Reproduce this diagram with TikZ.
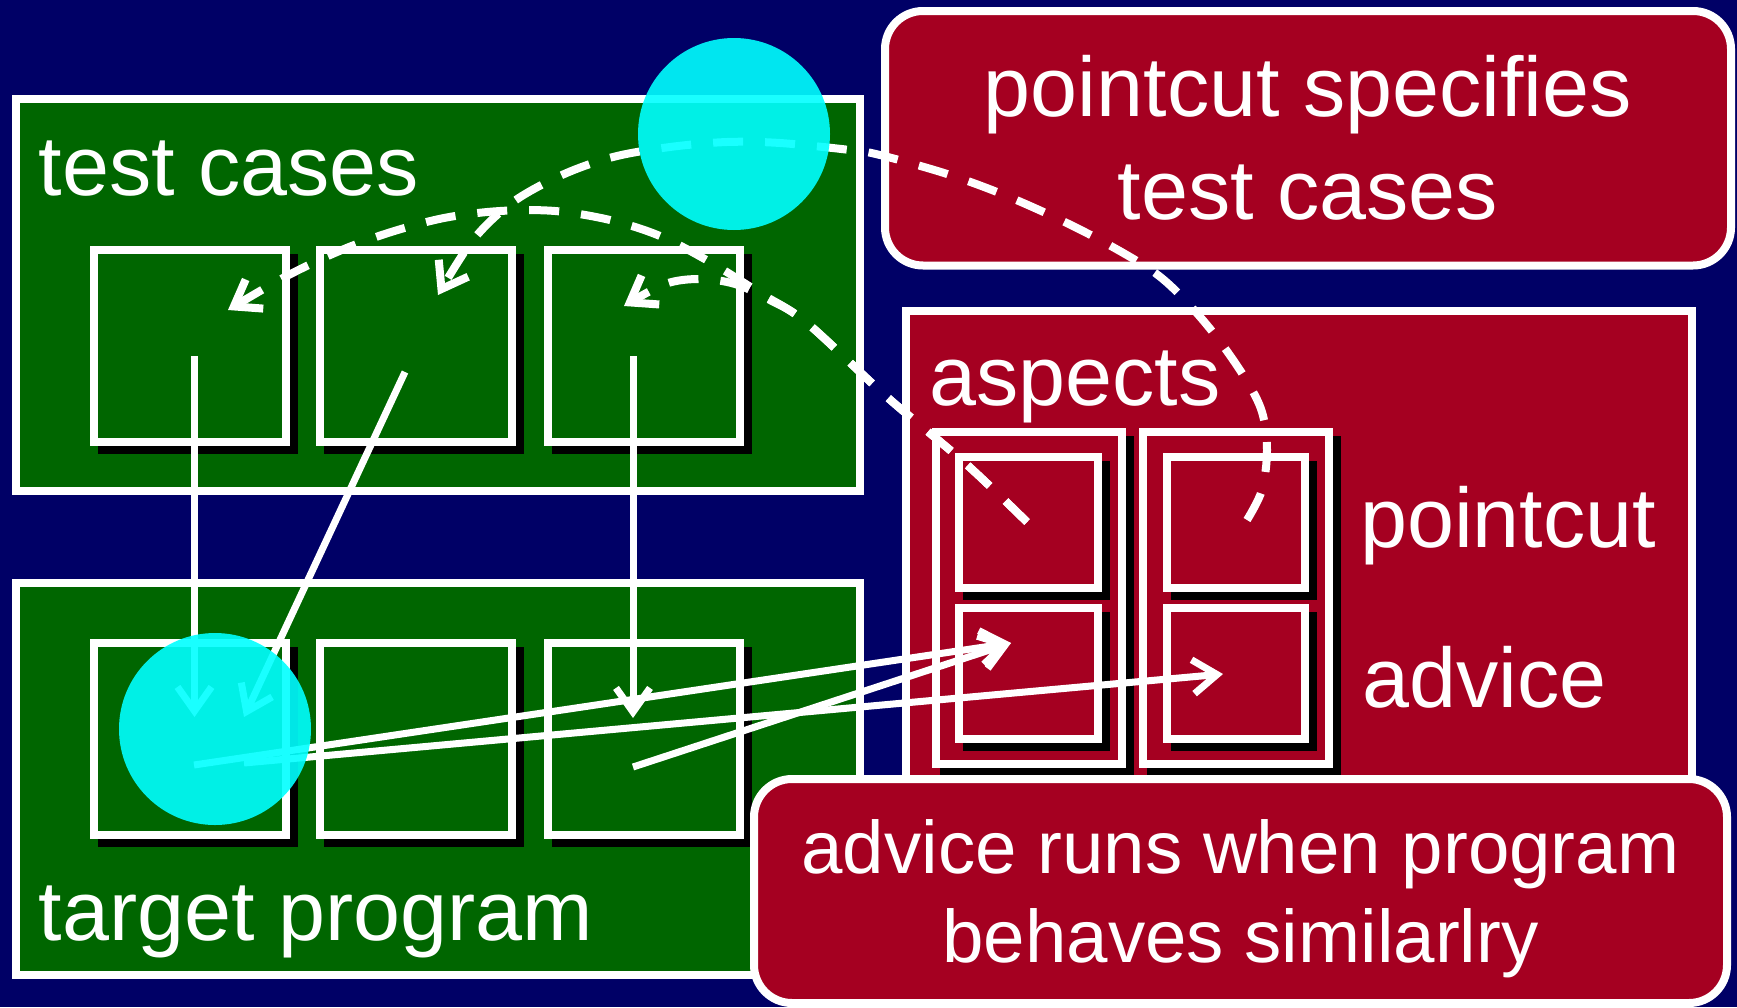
\documentclass[tikz,border=0pt]{standalone}
\usepackage{fontspec}
\setmainfont{Liberation Sans}
\usetikzlibrary{arrows.meta}
\definecolor{navybg}{RGB}{0,0,102}
\definecolor{dkgreen}{RGB}{0,102,0}
\definecolor{crimsonred}{RGB}{165,0,33}
\definecolor{aqua}{RGB}{0,255,255}
\begin{document}
\begin{tikzpicture}[x=1pt,y=-1pt,
  whitebox/.style={draw=white, line width=8pt, rectangle, inner sep=0pt},
  gbox/.style={whitebox, fill=dkgreen},
  rbox/.style={whitebox, fill=crimsonred},
  shad/.style={preaction={draw=black, fill=black, transform canvas={shift={(8pt,-8pt)}}}},
  sq/.style={minimum width=192pt, minimum height=192pt},
  lbl/.style={text=white, font=\fontsize{84.5}{100}\selectfont, inner sep=0pt, anchor=base west},
  calloutbox/.style={draw=white, line width=8pt, fill=crimsonred, rounded corners=38pt, text=white, align=center, inner sep=0pt},
  solidarrow/.style={draw=white, line width=7pt, -{Straight Barb[length=24pt,width=34pt]}},
  dasharrow/.style={draw=white, line width=8pt, dash pattern=on 30pt off 22pt, -{Straight Barb[length=24pt,width=34pt]}},
  spotlight/.style={circle, fill=aqua, fill opacity=0.9, minimum size=192pt, inner sep=0pt}
]
\fill[navybg] (0,0) rectangle (1737,1007);
\useasboundingbox (0,0) rectangle (1737,1007);

% big frames
\node[gbox, minimum width=844pt, minimum height=392pt] (tests) at (438,295) {};
\node[gbox, minimum width=844pt, minimum height=391.5pt] (target) at (438,778.75) {};
\foreach \n/\x in {1/189.5,2/416,3/644}{
  \node[gbox, shad, sq] (tc\n) at (\x,346) {};
  \node[gbox, shad, sq] (tp\n) at (\x,739) {};
}
\node[rbox, minimum width=786.5pt, minimum height=468.5pt] (aspects) at (1298.75,545.25) {};
\node[rbox, shad, minimum width=186pt, minimum height=332pt] (asp1) at (1029,598) {};
\node[rbox, shad, minimum width=186pt, minimum height=332pt] (asp2) at (1236,598) {};
\node[rbox, shad, minimum width=139pt, minimum height=131pt] (pc1) at (1028.5,522.5) {};
\node[rbox, shad, minimum width=139pt, minimum height=131pt] (ad1) at (1028.5,673.5) {};
\node[rbox, shad, minimum width=138pt, minimum height=131pt] (pc2) at (1236,522.5) {};
\node[rbox, shad, minimum width=138pt, minimum height=131pt] (ad2) at (1236,673.5) {};

% labels
\node[lbl] (ltests) at (38.5,195) {test cases};
\node[lbl] (ltarget) at (38.5,940) {target program};
\node[lbl] (laspects) at (929,405) {aspects};
\node[lbl] (lpointcut) at (1360,547) {pointcut};
\node[lbl] (ladvice) at (1362,707) {advice};

% connector end points
\coordinate (s1a) at (194.5,356); \coordinate (s1b) at (194.5,717);
\coordinate (s2a) at (405,372);   \coordinate (s2b) at (244,717);
\coordinate (s3a) at (633,356);   \coordinate (s3b) at (633,718);
\coordinate (r1) at (194,765);
\coordinate (r2) at (244,763);
\coordinate (r3) at (633,767);
\coordinate (ad1tip) at (1011,643);
\coordinate (ad2tip) at (1223,674);

% solid arrows
\draw[solidarrow] (s1a) -- (s1b);
\draw[solidarrow] (s2a) -- (s2b);
\draw[solidarrow] (s3a) -- (s3b);
\draw[solidarrow] (r1) -- (ad1tip);
\draw[solidarrow] (r2) -- (ad2tip);
\draw[solidarrow] (r3) -- (ad1tip);

% callouts
\node[calloutbox, minimum width=846pt, minimum height=254.5pt, font=\fontsize{84.5}{103}\selectfont] (note1) at (1308,138.25) {pointcut specifies\\test cases};
\node[calloutbox, minimum width=973pt, minimum height=224pt, font=\fontsize{74.5}{89}\selectfont, text depth=0pt] (note2) at (1240.5,891) {advice runs when program\\behaves similarlry};

% dashed arrows
\draw[dasharrow] plot[smooth, tension=0.55] coordinates {(1027,522) (965,463) (887,397) (807,323) (760,293) (710,262) (660,236) (610,220) (555,211) (500,211) (444,218) (388,233) (337,252) (283,278) (228,310)};
\draw[dasharrow] plot[smooth, tension=0.55] coordinates {(1027,522) (965,463) (887,397) (807,323) (770,300) (735,284) (700,279) (665,284) (624,306)};
\draw[dasharrow] plot[smooth, tension=0.55] coordinates {(1247,520) (1262,490) (1267,450) (1262,412) (1245,378) (1215,335) (1182,297) (1151,270) (1100,240) (1050,215) (997,192) (944,173) (880,155) (850,150) (780,143) (727,142) (670,147) (613,157) (562,175) (513,202) (473,240) (438,295)};

% highlight spots
\node[spotlight] (spot1) at (734,134) {};
\node[spotlight] (spot2) at (215,729) {};
\end{tikzpicture}
\end{document}
